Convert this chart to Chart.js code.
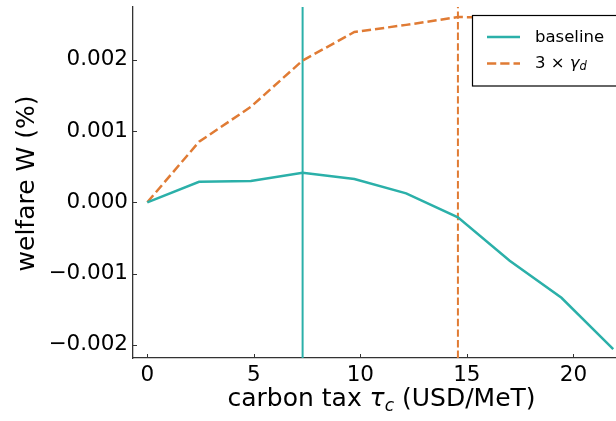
<!DOCTYPE html>
<html lang="en">
<head>
  <meta charset="UTF-8">
  <title>Welfare vs carbon tax</title>
  <script src="https://cdn.jsdelivr.net/npm/chart.js@4.4.0/dist/chart.umd.min.js"></script>
  <style>
    body { margin: 0; padding: 0; background: #fff; }
    #wrap { width: 616px; height: 421px; }
  </style>
</head>
<body>
  <div id="wrap"><canvas id="welfareChart" width="616" height="421"></canvas></div>

  <script>
    // carbon tax levels (USD/MeT)
    const taxLevels = [0, 2.43, 4.86, 7.29, 9.72, 12.15, 14.58, 17.01, 19.44, 21.87];
    // welfare change W (%)
    const baselineW = [0, 0.000289, 0.000299, 0.000415, 0.000327, 0.000126, -0.000211, -0.00082, -0.00134, -0.00206];
    const gamma3W = [0, 0.00085, 0.00134, 0.00199, 0.00239, 0.00249, 0.0026, 0.00259, 0.00256, 0.0025];
    // optimal tax for each case (vertical markers)
    const optimalTax = [7.29, 14.58];
    const xTicks = [0, 5, 10, 15, 20];
    const yTicks = [-0.002, -0.001, 0, 0.001, 0.002];
    const xRange = [-0.671, 22.0];
    const yRange = [-0.002185, 0.002741];

    const TEAL = '#2bb0a9';
    const ORANGE = '#e07b34';
    const FONT = '"DejaVu Sans", sans-serif';

    const pts = (ys) => taxLevels.map((x, i) => ({ x: x, y: ys[i] }));
    const vline = (x) => [{ x: x, y: yRange[0] }, { x: x, y: yRange[1] }];

    // inward ticks, axis titles and legend
    const decor = {
      id: 'decor',
      afterDraw(chart) {
        const ctx = chart.ctx;
        const area = chart.chartArea;
        const xs = chart.scales.x, ys = chart.scales.y;
        ctx.save();
        ctx.strokeStyle = '#333';
        ctx.lineWidth = 1;
        xTicks.forEach(v => {
          const p = Math.round(xs.getPixelForValue(v)) + 0.5;
          ctx.beginPath(); ctx.moveTo(p, area.bottom); ctx.lineTo(p, area.bottom - 4); ctx.stroke();
        });
        yTicks.forEach(v => {
          const p = Math.round(ys.getPixelForValue(v)) + 0.5;
          ctx.beginPath(); ctx.moveTo(area.left, p); ctx.lineTo(area.left + 4, p); ctx.stroke();
        });

        // x title with subscript
        ctx.fillStyle = '#000';
        ctx.textBaseline = 'alphabetic';
        ctx.textAlign = 'left';
        const big = '25px ' + FONT, it = 'italic 25px ' + FONT, sub = 'italic 17px ' + FONT;
        const parts = [['carbon tax ', big, 0], ['τ', it, 0], ['c', sub, 5], [' (USD/MeT)', big, 0]];
        let total = 0;
        parts.forEach(p => { ctx.font = p[1]; total += ctx.measureText(p[0]).width; });
        let cx = 381.5 - total / 2;
        parts.forEach(p => { ctx.font = p[1]; ctx.fillText(p[0], cx, 406 + p[2]); cx += ctx.measureText(p[0]).width; });

        // y title
        ctx.save();
        ctx.translate(34, 183.5);
        ctx.rotate(-Math.PI / 2);
        ctx.textAlign = 'center';
        ctx.font = big;
        ctx.fillText('welfare W (%)', 0, 0);
        ctx.restore();

        // legend
        ctx.fillStyle = '#fff';
        ctx.fillRect(472.5, 15.5, 160, 70.5);
        ctx.strokeStyle = '#000';
        ctx.lineWidth = 1.2;
        ctx.strokeRect(472.5, 15.5, 160, 70.5);
        ctx.lineWidth = 2.5;
        ctx.strokeStyle = TEAL;
        ctx.beginPath(); ctx.moveTo(487, 37); ctx.lineTo(520, 37); ctx.stroke();
        ctx.strokeStyle = ORANGE;
        ctx.setLineDash([9.25, 4]);
        ctx.beginPath(); ctx.moveTo(487, 63.5); ctx.lineTo(520, 63.5); ctx.stroke();
        ctx.setLineDash([]);
        ctx.fillStyle = '#000';
        ctx.textBaseline = 'middle';
        ctx.font = '16.5px ' + FONT;
        ctx.fillText('baseline', 535, 38);
        let lx = 535;
        const lparts = [['3 × ', '16.5px ' + FONT, 0], ['γ', 'italic 16.5px ' + FONT, 0], ['d', 'italic 11.5px ' + FONT, 3.5]];
        lparts.forEach(p => { ctx.font = p[1]; ctx.fillText(p[0], lx, 64 + p[2]); lx += ctx.measureText(p[0]).width; });
        ctx.restore();
      }
    };

    new Chart(document.getElementById('welfareChart'), {
      type: 'line',
      data: {
        datasets: [{
          label: 'baseline',
          data: pts(baselineW),
          borderColor: TEAL,
          borderWidth: 2.5,
          pointRadius: 0,
          tension: 0
        }, {
          label: '3 × γd',
          data: pts(gamma3W),
          borderColor: ORANGE,
          borderWidth: 2.5,
          borderDash: [9.25, 4],
          pointRadius: 0,
          tension: 0
        }, {
          label: 'opt baseline',
          data: vline(optimalTax[0]),
          borderColor: TEAL,
          borderWidth: 2,
          pointRadius: 0
        }, {
          label: 'opt 3γd',
          data: vline(optimalTax[1]),
          borderColor: ORANGE,
          borderWidth: 2,
          borderDash: [7.4, 3.2],
          pointRadius: 0
        }]
      },
      options: {
        responsive: false,
        animation: false,
        events: [],
        layout: { padding: { top: 7, right: 0, left: 0, bottom: 0 } },
        scales: {
          x: {
            type: 'linear',
            min: xRange[0],
            max: xRange[1],
            afterBuildTicks: s => { s.ticks = xTicks.map(v => ({ value: v })); },
            afterFit: s => { s.height = 63; s.paddingLeft = 0; s.paddingRight = 0; },
            grid: { display: false, drawTicks: false },
            border: { display: true, color: '#333', width: 1.3 },
            ticks: { color: '#000', padding: 5, font: { family: 'DejaVu Sans', size: 21.5 }, maxRotation: 0 }
          },
          y: {
            type: 'linear',
            min: yRange[0],
            max: yRange[1],
            afterBuildTicks: s => { s.ticks = yTicks.map(v => ({ value: v })); },
            afterFit: s => { s.width = 133; s.paddingTop = 0; s.paddingBottom = 0; },
            grid: { display: false, drawTicks: false },
            border: { display: true, color: '#333', width: 1.3 },
            ticks: {
              color: '#000',
              padding: 5,
              font: { family: 'DejaVu Sans', size: 21.5 },
              callback: v => v.toFixed(3).replace('-', '\u2212')
            }
          }
        },
        plugins: {
          legend: { display: false },
          tooltip: { enabled: false }
        }
      },
      plugins: [decor]
    });
  </script>
</body>
</html>
